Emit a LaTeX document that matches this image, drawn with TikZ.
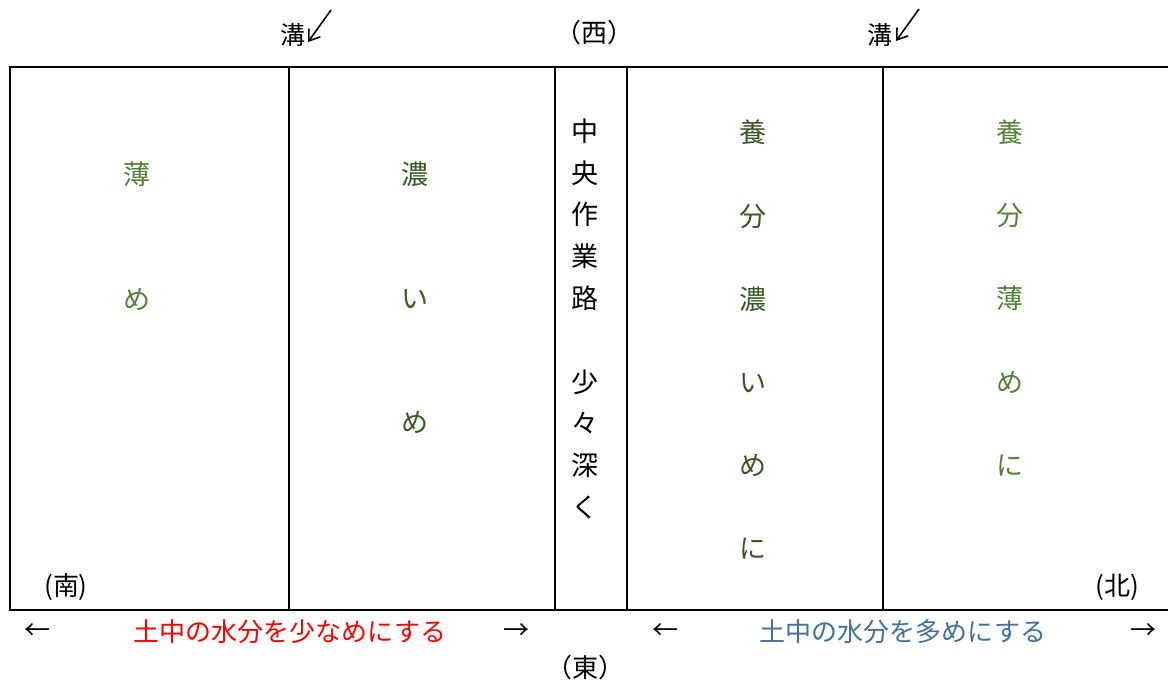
\documentclass[tikz,border=0pt]{standalone}
\usepackage{fontspec}
\setmainfont{Noto Sans CJK JP}
\usetikzlibrary{arrows.meta}
\definecolor{lgreen}{HTML}{548235}
\definecolor{dgreen}{HTML}{385723}
\definecolor{bluet}{HTML}{41719C}
\tikzset{
  frame/.style={line width=2.3pt, black},
  coltext/.style={align=center, inner sep=0pt, font=\fontsize{27}{#1}\selectfont},
  lbl/.style={inner sep=0pt, font=\fontsize{26}{30}\selectfont},
  kouarrow/.style={line width=1.6pt, -{Straight Barb[length=10pt,width=14pt,line width=1.6pt]}},
}
\begin{document}
\begin{tikzpicture}[x=1pt,y=-1pt]
\useasboundingbox (0,0) rectangle (1168,686);
% frame
\draw[frame] (1170,67) -- (10,67) -- (10,610) -- (1170,610);
\coordinate (v1t) at (289,67); \coordinate (v1b) at (289,610);
\coordinate (v2t) at (555,67); \coordinate (v2b) at (555,610);
\coordinate (v3t) at (627,67); \coordinate (v3b) at (627,610);
\coordinate (v4t) at (883,67); \coordinate (v4b) at (883,610);
\draw[frame] (v1t) -- (v1b);
\draw[frame] (v2t) -- (v2b);
\draw[frame] (v3t) -- (v3b);
\draw[frame] (v4t) -- (v4b);
% top labels
\node[lbl, font=\fontsize{25}{28}\selectfont] (kou1) at (293,35) {溝};
\coordinate (a1s) at (331,10);
\draw[kouarrow] (a1s) -- (308,42);
\node[lbl, font=\fontsize{25}{28}\selectfont] (kou2) at (880,35) {溝};
\coordinate (a2s) at (919,9);
\draw[kouarrow] (a2s) -- (896,41);
\node[lbl] (west) at (594,33) {（西）};
% columns
\node[coltext=125, text=lgreen] (c1) at (137,236) {薄\\め};
\node[coltext=124, text=dgreen] (c2) at (415,298) {濃\\い\\め};
\node[coltext=41.8, text=black] (c3) at (585,319) {中\\央\\作\\業\\路\\\mbox{}\\少\\々\\深\\く};
\node[coltext=83.2, text=dgreen] (c4) at (753,340) {養\\分\\濃\\い\\め\\に};
\node[coltext=83.2, text=lgreen] (c5) at (1010,298) {養\\分\\薄\\め\\に};
% corners
\node[lbl] (south) at (66,587) {(南)};
\node[lbl] (north) at (1117,587) {(北)};
% bottom
\node[lbl] (la1) at (37,632) {←};
\node[lbl, text=red] (lt1) at (290,632) {土中の水分を少なめにする};
\node[lbl] (ra1) at (516,632) {→};
\node[lbl] (la2) at (665,632) {←};
\node[lbl, text=bluet] (lt2) at (903,632) {土中の水分を多めにする};
\node[lbl] (ra2) at (1143,632) {→};
\node[lbl] (east) at (585,668) {（東）};
\end{tikzpicture}
\end{document}
